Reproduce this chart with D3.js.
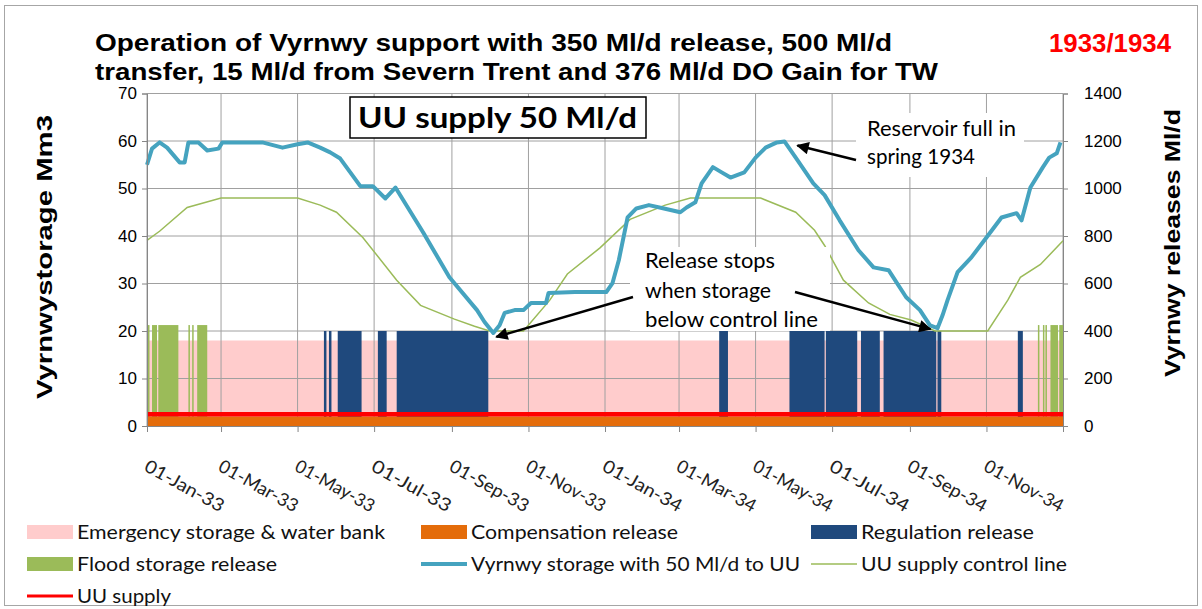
<!DOCTYPE html>
<html>
<head>
<meta charset="utf-8">
<script src="https://cdn.jsdelivr.net/npm/d3@7"></script>
<style>
  body { margin: 0; background: #fff; }
  svg { display: block; }
</style>
</head>
<body>
<div id="chart"></div>
<script>
// ---- data ----
const storage = [
  ['1933-01-01', 55.0], ['1933-01-05', 58.4], ['1933-01-11', 59.7], ['1933-01-17', 58.6],
  ['1933-01-27', 55.5], ['1933-01-31', 55.5], ['1933-02-03', 59.7], ['1933-02-11', 59.7],
  ['1933-02-18', 58.0], ['1933-02-27', 58.4], ['1933-03-02', 59.7], ['1933-04-03', 59.7],
  ['1933-04-19', 58.6], ['1933-05-01', 59.3], ['1933-05-09', 59.7], ['1933-05-19', 58.6],
  ['1933-05-27', 57.6], ['1933-06-04', 56.3], ['1933-06-20', 50.5], ['1933-06-30', 50.5],
  ['1933-07-10', 47.9], ['1933-07-18', 50.2], ['1933-08-09', 40.8], ['1933-08-30', 31.3],
  ['1933-09-21', 24.4], ['1933-09-27', 21.9], ['1933-10-04', 19.6], ['1933-10-09', 21.2],
  ['1933-10-13', 23.8], ['1933-10-21', 24.4], ['1933-10-28', 24.4], ['1933-11-03', 25.9],
  ['1933-11-15', 25.9], ['1933-11-17', 28.0], ['1933-12-08', 28.2], ['1934-01-02', 28.2],
  ['1934-01-07', 30.1], ['1934-01-12', 34.9], ['1934-01-19', 43.9], ['1934-01-26', 45.8],
  ['1934-02-05', 46.5], ['1934-02-17', 45.8], ['1934-03-02', 45.0], ['1934-03-07', 46.0],
  ['1934-03-14', 47.1], ['1934-03-19', 51.1], ['1934-03-28', 54.5], ['1934-04-04', 53.4],
  ['1934-04-11', 52.3], ['1934-04-22', 53.4], ['1934-05-01', 56.5], ['1934-05-09', 58.6],
  ['1934-05-18', 59.7], ['1934-05-24', 59.9], ['1934-06-02', 56.5], ['1934-06-16', 51.1],
  ['1934-06-25', 48.6], ['1934-07-07', 43.3], ['1934-07-22', 37.0], ['1934-08-03', 33.4],
  ['1934-08-15', 32.8], ['1934-08-29', 27.1], ['1934-09-09', 24.4], ['1934-09-17', 21.2],
  ['1934-09-23', 20.6], ['1934-09-27', 23.3], ['1934-10-01', 26.5], ['1934-10-09', 32.4],
  ['1934-10-20', 35.5], ['1934-11-01', 39.7], ['1934-11-13', 43.9], ['1934-11-25', 44.8],
  ['1934-11-29', 43.3], ['1934-12-06', 50.2], ['1934-12-16', 54.5], ['1934-12-21', 56.5],
  ['1934-12-27', 57.4], ['1934-12-30', 59.7]
]

const controlLine = [
  ['1933-01-01', 39.1], ['1933-01-11', 41.0], ['1933-02-02', 46.0], ['1933-03-01', 48.0],
  ['1933-05-01', 48.0], ['1933-05-19', 46.5], ['1933-06-01', 45.0], ['1933-06-22', 39.7],
  ['1933-07-19', 30.7], ['1933-08-07', 25.4], ['1933-09-03', 22.5], ['1933-09-19', 21.0],
  ['1933-10-01', 20.0], ['1933-10-28', 20.0], ['1933-11-18', 26.5], ['1933-12-02', 32.0],
  ['1933-12-28', 37.5], ['1934-01-21', 43.5], ['1934-02-18', 46.5], ['1934-03-10', 48.0],
  ['1934-05-05', 48.0], ['1934-06-02', 45.0], ['1934-06-17', 41.2], ['1934-06-25', 38.0],
  ['1934-07-10', 30.7], ['1934-07-30', 25.9], ['1934-08-16', 23.5], ['1934-09-02', 22.3],
  ['1934-09-21', 20.0], ['1934-11-02', 20.0], ['1934-11-18', 26.5], ['1934-11-28', 31.3],
  ['1934-12-14', 34.0], ['1935-01-01', 39.0]
]

// periods when the regulation release (Ml/d) is on
const regulationPeriods = [
  ['1933-05-22', '1933-05-24'], ['1933-05-26', '1933-05-28'], ['1933-06-02', '1933-06-21'],
  ['1933-07-04', '1933-07-11'], ['1933-07-19', '1933-09-30'], ['1934-04-02', '1934-04-09'],
  ['1934-05-28', '1934-06-25'], ['1934-06-26', '1934-07-21'], ['1934-07-24', '1934-08-08'],
  ['1934-08-11', '1934-09-22'], ['1934-09-23', '1934-09-26'], ['1934-11-26', '1934-11-30']
]

// periods when flood storage is released
const floodPeriods = [
  ['1933-01-01', '1933-01-03'], ['1933-01-05', '1933-01-09'], ['1933-01-10', '1933-01-26'],
  ['1933-02-03', '1933-02-04'], ['1933-02-06', '1933-02-07'], ['1933-02-10', '1933-02-18'],
  ['1934-12-12', '1934-12-13'], ['1934-12-16', '1934-12-17'], ['1934-12-18', '1934-12-19'],
  ['1934-12-22', '1934-12-28'], ['1934-12-29', '1935-01-01']
]

const emergencyLevel = 18     // Mm3
const compensationRate = 40   // Ml/d
const regulationRate = 400    // Ml/d
const floodRate = 425         // Ml/d
const uuSupply = 50           // Ml/d

const leftTicks = d3.range(0, 71, 10)
const rightTicks = d3.range(0, 1401, 200)

const seriesNames = [
  'Emergency storage & water bank', 'Compensation release', 'Regulation release',
  'Flood storage release', 'Vyrnwy storage with 50 Ml/d to UU', 'UU supply control line',
  'UU supply'
]

// ---- setup ----
const width = 1202
const height = 609
const plot = { left: 147, right: 1063, top: 93.5, bottom: 426 }

const colors = {
  pink: '#ffcccc',
  orange: '#e46c0a',
  navy: '#1f497d',
  green: '#9bbb59',
  teal: '#45a3bf',
  red: '#ff0000',
  grid: '#a0a0a0'
}

const arial = '"Liberation Sans", Arial, sans-serif'

const parse = d3.timeParse('%Y-%m-%d')
const start = new Date(1933, 0, 1)
const end = new Date(1935, 0, 1)

const x = d3.scaleTime().domain([start, end]).range([plot.left, plot.right])
const yL = d3.scaleLinear().domain([0, 70]).range([plot.bottom, plot.top])
const yR = d3.scaleLinear().domain([0, 1400]).range([plot.bottom, plot.top])

// stretch a text to the width it has in the picture
function fit(sel, w) {
  sel.attr('textLength', w).attr('lengthAdjust', 'spacingAndGlyphs')
}

const svg = d3
  .select('#chart')
  .append('svg')
  .attr('width', width)
  .attr('height', height)
  .style('font-family', 'Lato, sans-serif')

svg
  .append('defs')
  .append('marker')
  .attr('id', 'arrow')
  .attr('viewBox', '0 0 10 10')
  .attr('refX', 9)
  .attr('refY', 5)
  .attr('markerWidth', 6)
  .attr('markerHeight', 5)
  .attr('orient', 'auto')
  .append('path')
  .attr('d', 'M0,0L10,5L0,10z')
  .attr('fill', '#000')

svg
  .append('rect')
  .attr('x', 4.5)
  .attr('y', 5.5)
  .attr('width', 1193)
  .attr('height', 600)
  .attr('fill', '#fff')
  .attr('stroke', '#a6a6a6')

// emergency storage band
svg
  .append('rect')
  .attr('x', plot.left)
  .attr('y', yL(emergencyLevel))
  .attr('width', plot.right - plot.left)
  .attr('height', yL(0) - yL(emergencyLevel))
  .attr('fill', colors.pink)

// gridlines
const monthTicks = d3.timeMonth.every(2).range(start, d3.timeDay.offset(end, 1))

svg
  .append('g')
  .selectAll('line')
  .data(leftTicks)
  .join('line')
  .attr('x1', plot.left)
  .attr('x2', plot.right)
  .attr('y1', d => yL(d))
  .attr('y2', d => yL(d))
  .attr('stroke', colors.grid)

svg
  .append('g')
  .selectAll('line')
  .data(monthTicks)
  .join('line')
  .attr('x1', d => x(d))
  .attr('x2', d => x(d))
  .attr('y1', plot.top)
  .attr('y2', plot.bottom)
  .attr('stroke', colors.grid)

// releases
function drawPeriods(periods, rate, color) {
  svg
    .append('g')
    .selectAll('rect')
    .data(periods)
    .join('rect')
    .attr('x', d => x(parse(d[0])))
    .attr('width', d => Math.max(1.5, x(parse(d[1])) - x(parse(d[0]))))
    .attr('y', yR(rate))
    .attr('height', yR(0) - yR(rate))
    .attr('fill', color)
}
drawPeriods(regulationPeriods, regulationRate, colors.navy)
drawPeriods(floodPeriods, floodRate, colors.green)

svg
  .append('rect')
  .attr('x', plot.left)
  .attr('y', yR(compensationRate))
  .attr('width', plot.right - plot.left)
  .attr('height', yR(0) - yR(compensationRate))
  .attr('fill', colors.orange)

svg
  .append('line')
  .attr('x1', plot.left)
  .attr('x2', plot.right)
  .attr('y1', yR(uuSupply))
  .attr('y2', yR(uuSupply))
  .attr('stroke', colors.red)
  .attr('stroke-width', 4.5)

// lines
const line = d3
  .line()
  .x(d => x(parse(d[0])))
  .y(d => yL(d[1]))

svg
  .append('path')
  .datum(controlLine)
  .attr('d', line)
  .attr('fill', 'none')
  .attr('stroke', colors.green)
  .attr('stroke-width', 1.5)

svg
  .append('path')
  .datum(storage)
  .attr('d', line)
  .attr('fill', 'none')
  .attr('stroke', colors.teal)
  .attr('stroke-width', 4)
  .attr('stroke-linejoin', 'round')

// axes
const leftAxis = svg
  .append('g')
  .attr('transform', `translate(${plot.left},0)`)
  .call(d3.axisLeft(yL).tickValues(leftTicks).tickSize(5).tickPadding(5))

const rightAxis = svg
  .append('g')
  .attr('transform', `translate(${plot.right},0)`)
  .call(d3.axisRight(yR).tickValues(rightTicks).tickFormat(d3.format('d')).tickSize(5).tickPadding(16))

const bottomAxis = svg
  .append('g')
  .attr('transform', `translate(0,${plot.bottom})`)
  .call(d3.axisBottom(x).tickValues(monthTicks).tickSize(6).tickFormat(''))

;[leftAxis, rightAxis, bottomAxis].forEach(g => {
  g.selectAll('.domain').attr('stroke', '#868686')
  g.selectAll('.tick line').attr('stroke', '#868686')
  g.selectAll('text')
    .attr('font-family', arial)
    .attr('font-size', 17)
    .attr('fill', '#000')
})

const fmt = d3.timeFormat('%d-%b-%y')
svg
  .append('g')
  .selectAll('text')
  .data(monthTicks.slice(0, -1))
  .join('text')
  .attr('transform', d => `translate(${x(d) - 4},470) rotate(29)`)
  .attr('font-size', 18)
  .attr('fill', '#222')
  .text(d => fmt(d))
  .call(fit, 88)

// axis titles
svg
  .append('text')
  .attr('transform', 'translate(52,257) rotate(-90)')
  .attr('text-anchor', 'middle')
  .attr('font-family', arial)
  .attr('font-weight', 'bold')
  .attr('font-size', 22)
  .text('Vyrnwystorage Mm3')
  .call(fit, 284)

svg
  .append('text')
  .attr('transform', 'translate(1180,243) rotate(-90)')
  .attr('text-anchor', 'middle')
  .attr('font-family', arial)
  .attr('font-weight', 'bold')
  .attr('font-size', 22)
  .text('Vyrnwy releases Ml/d')
  .call(fit, 268)

// title
const title = svg
  .append('g')
  .attr('font-family', arial)
  .attr('font-weight', 'bold')
  .attr('font-size', 24)
  .attr('fill', '#000')
title.append('text').attr('x', 95).attr('y', 51)
  .text('Operation of Vyrnwy support with 350 Ml/d release, 500 Ml/d')
  .call(fit, 797)
title.append('text').attr('x', 95).attr('y', 80)
  .text('transfer, 15 Ml/d from Severn Trent and 376 Ml/d DO Gain for TW')
  .call(fit, 843)

svg
  .append('text')
  .attr('x', 1049)
  .attr('y', 52)
  .attr('font-family', arial)
  .attr('font-weight', 'bold')
  .attr('font-size', 26)
  .attr('fill', colors.red)
  .text('1933/1934')
  .call(fit, 122)

// UU supply box
svg
  .append('rect')
  .attr('x', 350)
  .attr('y', 97)
  .attr('width', 296)
  .attr('height', 41)
  .attr('fill', '#fff')
  .attr('stroke', '#000')
  .attr('stroke-width', 1.5)
svg
  .append('text')
  .attr('x', 358)
  .attr('y', 128)
  .attr('font-weight', 'bold')
  .attr('font-size', 29)
  .text('UU supply 50 Ml/d')
  .call(fit, 279)

// annotations
function note(bx, by, bw, bh, lines, tx, ty, lh, widths) {
  svg.append('rect').attr('x', bx).attr('y', by).attr('width', bw).attr('height', bh).attr('fill', '#fff')
  lines.forEach((l, i) =>
    svg
      .append('text')
      .attr('x', tx)
      .attr('y', ty + i * lh)
      .attr('font-size', 21)
      .attr('fill', '#000')
      .text(l)
      .call(fit, widths[i])
  )
}
function arrow(from, to) {
  svg
    .append('line')
    .attr('x1', from[0])
    .attr('y1', from[1])
    .attr('x2', to[0])
    .attr('y2', to[1])
    .attr('stroke', '#000')
    .attr('stroke-width', 2.5)
    .attr('marker-end', 'url(#arrow)')
}

note(856, 113, 168, 64, ['Reservoir full in', 'spring 1934'], 867, 136, 28, [149, 108])
note(630, 247, 200, 84, ['Release stops', 'when storage', 'below control line'], 645, 268, 29.5, [130, 126, 173])

const peak = storage.find(d => d[0] === '1934-05-24')
const low33 = storage.find(d => d[0] === '1933-10-04')
const low34 = storage.find(d => d[0] === '1934-09-23')
arrow([856, 160], [x(parse(peak[0])) + 13, yL(peak[1]) + 4])
arrow([633, 297], [x(parse(low33[0])) + 3, yL(low33[1]) + 4])
arrow([795, 292], [x(parse(low34[0])) - 7, yL(low34[1]) + 1])

// legend
const legendCols = [27, 421, 811]
const legendRows = [532, 564, 596]
const legendWidths = [308, 207, 173, 200, 329, 206, 94]
const legendKinds = [
  { type: 'rect', color: colors.pink },
  { type: 'rect', color: colors.orange },
  { type: 'rect', color: colors.navy },
  { type: 'rect', color: colors.green },
  { type: 'line', color: colors.teal, w: 4 },
  { type: 'line', color: colors.green, w: 1.5 },
  { type: 'line', color: colors.red, w: 3 }
]

const legend = svg
  .append('g')
  .selectAll('g')
  .data(seriesNames)
  .join('g')
  .attr('transform', (d, i) => `translate(${legendCols[i % 3]},${legendRows[Math.floor(i / 3)]})`)

legend.each(function (d, i) {
  const g = d3.select(this)
  const k = legendKinds[i]
  if (k.type === 'rect') {
    g.append('rect').attr('x', 0).attr('y', -7).attr('width', 46).attr('height', 14).attr('fill', k.color)
  } else {
    g.append('line').attr('x1', 0).attr('x2', 46).attr('y1', 0).attr('y2', 0)
      .attr('stroke', k.color).attr('stroke-width', k.w)
  }
  g.append('text')
    .attr('x', 50)
    .attr('y', 7)
    .attr('font-size', 19)
    .attr('fill', '#111')
    .text(d)
    .call(fit, legendWidths[i])
})
</script>
</body>
</html>
